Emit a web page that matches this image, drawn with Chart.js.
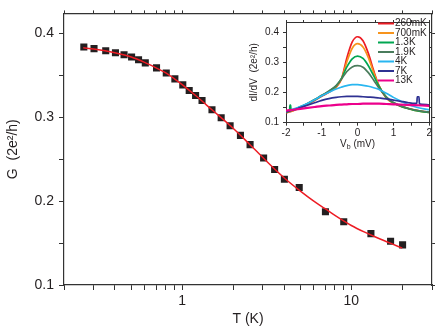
<!DOCTYPE html>
<html>
<head>
<meta charset="utf-8">
<script src="https://cdn.jsdelivr.net/npm/chart.js@4.4.0/dist/chart.umd.min.js"></script>
<style>
  body { margin: 0; background: #fff; }
  #wrap { position: relative; width: 437px; height: 336px; }
  #main { position: absolute; left: 0; top: 0; }
  #inset { position: absolute; left: 248px; top: 12px; }
</style>
</head>
<body>
<div id="wrap">
  <canvas id="main" width="437" height="336"></canvas>
  <canvas id="inset" width="186" height="138"></canvas>
</div>
<script>
// main panel: G vs T
const tempK = [0.262, 0.301, 0.353, 0.403, 0.453, 0.502, 0.552, 0.605, 0.705, 0.805, 0.905, 1.008, 1.10, 1.20, 1.31, 1.50, 1.70, 1.92, 2.21, 2.52, 3.03, 3.52, 4.02, 4.92, 7.03, 9.02, 13.06, 17.07, 20.1];
const conductance = [0.384, 0.382, 0.3795, 0.377, 0.3747, 0.372, 0.3688, 0.365, 0.359, 0.353, 0.3459, 0.3387, 0.332, 0.326, 0.320, 0.309, 0.2995, 0.290, 0.2785, 0.2675, 0.2515, 0.2378, 0.2262, 0.2164, 0.1874, 0.1755, 0.1613, 0.1522, 0.1479];
const fitT = [0.26, 0.3, 0.4, 0.5, 0.6, 0.7, 0.8, 0.9, 1.0, 1.2, 1.5, 2, 2.5, 3, 4, 5, 6, 7, 8, 10, 12, 14, 17, 20];
const fitG = [0.383, 0.3815, 0.377, 0.372, 0.3655, 0.359, 0.353, 0.346, 0.339, 0.326, 0.309, 0.287, 0.268, 0.252, 0.228, 0.212, 0.200, 0.191, 0.183, 0.171, 0.163, 0.157, 0.150, 0.144];
const tempTicks = [0.2, 0.3, 0.4, 0.5, 0.6, 0.7, 0.8, 0.9, 1, 2, 3, 4, 5, 6, 7, 8, 9, 10, 20, 30];
const tempLabels = [1, 10];
const gTicks = [0.1, 0.15, 0.2, 0.25, 0.3, 0.35, 0.4];
const gLabels = [0.1, 0.2, 0.3, 0.4];

// inset: dI/dV vs bias
const biasV = [-2, -1.8, -1.6, -1.4, -1.2, -1, -0.8, -0.6, -0.45, -0.3, -0.15, 0, 0.15, 0.3, 0.45, 0.6, 0.8, 1, 1.2, 1.4, 1.6, 1.8, 2];
const g260mK = [0.133, 0.140, 0.150, 0.161, 0.174, 0.188, 0.201, 0.218, 0.245, 0.315, 0.368, 0.385, 0.372, 0.330, 0.272, 0.222, 0.182, 0.165, 0.155, 0.148, 0.142, 0.138, 0.135];
const g700mK = [0.134, 0.141, 0.151, 0.162, 0.175, 0.189, 0.202, 0.219, 0.245, 0.302, 0.347, 0.362, 0.351, 0.316, 0.266, 0.221, 0.183, 0.165, 0.155, 0.147, 0.141, 0.137, 0.134];
const g1_3K = [0.135, 0.142, 0.152, 0.163, 0.176, 0.190, 0.204, 0.222, 0.247, 0.285, 0.312, 0.321, 0.313, 0.289, 0.255, 0.220, 0.185, 0.166, 0.155, 0.147, 0.141, 0.137, 0.134];
const g1_9K = [0.136, 0.143, 0.153, 0.164, 0.177, 0.191, 0.205, 0.223, 0.245, 0.270, 0.285, 0.289, 0.284, 0.266, 0.241, 0.214, 0.186, 0.167, 0.156, 0.148, 0.142, 0.138, 0.135];
const g4K = [0.137, 0.145, 0.154, 0.164, 0.176, 0.189, 0.201, 0.212, 0.218, 0.223, 0.226, 0.226, 0.224, 0.221, 0.216, 0.210, 0.198, 0.184, 0.172, 0.161, 0.153, 0.147, 0.143];
const g7K = [0.137, 0.142, 0.150, 0.158, 0.166, 0.174, 0.180, 0.184, 0.186, 0.187, 0.187, 0.187, 0.186, 0.185, 0.184, 0.182, 0.179, 0.175, 0.171, 0.167, 0.164, 0.161, 0.159];
const g13K = [0.140, 0.143, 0.146, 0.149, 0.152, 0.155, 0.157, 0.159, 0.160, 0.161, 0.162, 0.162, 0.163, 0.163, 0.163, 0.163, 0.162, 0.161, 0.160, 0.159, 0.158, 0.157, 0.156];
const spike1_3K = [[-1.9, 0.139], [-1.89, 0.158], [-1.87, 0.158], [-1.86, 0.141]];
const spike7K = [[1.655, 0.164], [1.665, 0.186], [1.715, 0.186], [1.725, 0.163]];
const tempNames = ['260mK', '700mK', '1.3K', '1.9K', '4K', '7K', '13K'];
const curveColors = ['#ed1c24', '#f7941d', '#00a651', '#4a7c5c', '#29b6f0', '#2e3192', '#ec008c'];
const biasTicks = [-2, -1.5, -1, -0.5, 0, 0.5, 1, 1.5, 2];
const biasLabels = [-2, -1, 0, 1, 2];
const insetTicks = [0.1, 0.15, 0.2, 0.25, 0.3, 0.35, 0.4];
const insetLabels = [0.1, 0.2, 0.3, 0.4];

const ink = '#231f20';
const axisCol = '#333';

function pts(xs, ys, extra) {
    const out = xs.map((x, i) => ({x: x, y: ys[i]}));
    (extra || []).forEach(p => out.push({x: p[0], y: p[1]}));
    return out.sort((a, b) => a.x - b.x);
}

function fixTicks(list) {
    return function(scale) { scale.ticks = list.map(v => ({value: v})); };
}

new Chart(document.getElementById('main'), {
    type: 'scatter',
    data: {
        datasets: [{
            label: 'fit',
            data: pts(fitT, fitG),
            showLine: true,
            pointRadius: 0,
            borderColor: '#ed1c24',
            borderWidth: 1.5,
            cubicInterpolationMode: 'monotone',
            order: 0
        }, {
            label: 'G',
            data: pts(tempK, conductance),
            pointStyle: 'rect',
            pointRadius: 5,
            backgroundColor: ink,
            borderColor: ink,
            borderWidth: 0,
            order: 1
        }]
    },
    options: {
        responsive: false,
        animation: false,
        layout: { padding: 0 },
        plugins: { legend: { display: false }, tooltip: { enabled: false } },
        scales: {
            x: {
                type: 'logarithmic', position: 'bottom', min: 0.2, max: 30,
                afterBuildTicks: fixTicks(tempTicks),
                afterFit: s => { s.height = 51; },
                ticks: {
                    autoSkip: false, maxRotation: 0, padding: 3, color: ink,
                    font: { size: 14, family: 'Liberation Sans' },
                    callback: v => tempLabels.includes(v) ? String(v) : ''
                },
                grid: { drawOnChartArea: false, tickLength: 5, tickColor: axisCol },
                border: { color: axisCol, width: 1.2 },
                title: { display: true, text: 'T (K)', color: ink, font: { size: 14, family: 'Liberation Sans' }, padding: { top: 0, bottom: 8 } }
            },
            xTop: {
                type: 'logarithmic', position: 'top', min: 0.2, max: 30,
                afterBuildTicks: fixTicks(tempTicks),
                afterFit: s => { s.height = 12.5; },
                ticks: { display: false },
                grid: { drawOnChartArea: false, tickLength: 3, tickColor: axisCol },
                border: { color: axisCol, width: 1.2 }
            },
            y: {
                type: 'linear', position: 'left', min: 0.1, max: 0.424,
                afterBuildTicks: fixTicks(gTicks),
                afterFit: s => { s.width = 64; },
                ticks: {
                    padding: 5, color: ink,
                    font: { size: 14, family: 'Liberation Sans' },
                    callback: v => gLabels.includes(v) ? v.toFixed(1) : ''
                },
                grid: { drawOnChartArea: false, tickLength: 5, tickColor: axisCol },
                border: { color: axisCol, width: 1.2 },
                title: { display: true, text: 'G  (2e²/h)', color: ink, font: { size: 14, family: 'Liberation Sans' }, padding: { top: 5 } }
            },
            yRight: {
                type: 'linear', position: 'right', min: 0.1, max: 0.424,
                afterBuildTicks: fixTicks(gTicks),
                afterFit: s => { s.width = 3.5; },
                ticks: { display: false },
                grid: { drawOnChartArea: false, tickLength: 3, tickColor: axisCol },
                border: { color: axisCol, width: 1.2 }
            }
        }
    }
});

// legend + subscripted x title for the inset
const insetExtras = {
    id: 'insetExtras',
    afterDraw(chart) {
        const ctx = chart.ctx;
        ctx.save();
        ctx.font = '10px "Liberation Sans"';
        ctx.textBaseline = 'middle';
        tempNames.forEach((name, i) => {
            const y = 11.5 + i * 9.5;
            ctx.strokeStyle = curveColors[i];
            ctx.lineWidth = 2;
            ctx.beginPath();
            ctx.moveTo(130, y);
            ctx.lineTo(146, y);
            ctx.stroke();
            ctx.fillStyle = ink;
            ctx.fillText(name, 147, y);
        });
        // V_b (mV)
        const cx = (chart.chartArea.left + chart.chartArea.right) / 2;
        const y = 132;
        ctx.font = '10px "Liberation Sans"';
        const wV = ctx.measureText('V').width;
        const wR = ctx.measureText(' (mV)').width;
        ctx.font = '7px "Liberation Sans"';
        const wb = ctx.measureText('b').width;
        let x = cx - (wV + wb + wR) / 2;
        ctx.textAlign = 'left';
        ctx.font = '10px "Liberation Sans"';
        ctx.fillText('V', x, y);
        ctx.font = '7px "Liberation Sans"';
        ctx.fillText('b', x + wV, y + 3);
        ctx.font = '10px "Liberation Sans"';
        ctx.fillText(' (mV)', x + wV + wb, y);
        ctx.restore();
    }
};

const curves = [g260mK, g700mK, g1_3K, g1_9K, g4K, g7K, g13K];
const curveExtras = [null, null, spike1_3K, null, null, spike7K, null];

new Chart(document.getElementById('inset'), {
    type: 'scatter',
    data: {
        datasets: curves.map((g, i) => ({
            label: tempNames[i],
            data: pts(biasV, g, curveExtras[i]),
            showLine: true,
            pointRadius: 0,
            borderColor: curveColors[i],
            borderWidth: i === 6 ? 2.2 : 1.7,
            cubicInterpolationMode: 'monotone',
            order: 6 - i
        }))
    },
    options: {
        responsive: false,
        animation: false,
        layout: { padding: 0 },
        plugins: { legend: { display: false }, tooltip: { enabled: false } },
        scales: {
            x: {
                type: 'linear', position: 'bottom', min: -2, max: 2,
                afterBuildTicks: fixTicks(biasTicks),
                afterFit: s => { s.height = 27.3; },
                ticks: {
                    autoSkip: false, maxRotation: 0, padding: 2, color: ink,
                    font: { size: 10, family: 'Liberation Sans' },
                    callback: v => biasLabels.includes(v) ? String(v) : ''
                },
                grid: { drawOnChartArea: false, tickLength: 3, tickColor: axisCol },
                border: { color: axisCol, width: 1 }
            },
            xTop: {
                type: 'linear', position: 'top', min: -2, max: 2,
                afterBuildTicks: fixTicks(biasTicks),
                afterFit: s => { s.height = 2.7; },
                ticks: { display: false },
                grid: { drawOnChartArea: false, tickLength: 2, tickColor: axisCol },
                border: { color: axisCol, width: 1 }
            },
            y: {
                type: 'linear', position: 'left', min: 0.1, max: 0.434,
                afterBuildTicks: fixTicks(insetTicks),
                afterFit: s => { s.width = 38; },
                ticks: {
                    padding: 4, color: ink,
                    font: { size: 10, family: 'Liberation Sans' },
                    callback: v => insetLabels.includes(v) ? v.toFixed(1) : ''
                },
                grid: { drawOnChartArea: false, tickLength: 3, tickColor: axisCol },
                border: { color: axisCol, width: 1 },
                title: { display: true, text: 'dI/dV  (2e²/h)', color: ink, font: { size: 10, family: 'Liberation Sans' }, padding: { top: 0 } }
            },
            yRight: {
                type: 'linear', position: 'right', min: 0.1, max: 0.434,
                afterBuildTicks: fixTicks(insetTicks),
                afterFit: s => { s.width = 4; },
                ticks: { display: false },
                grid: { drawOnChartArea: false, tickLength: 2, tickColor: axisCol },
                border: { color: axisCol, width: 1 }
            }
        }
    },
    plugins: [insetExtras]
});
</script>
</body>
</html>
